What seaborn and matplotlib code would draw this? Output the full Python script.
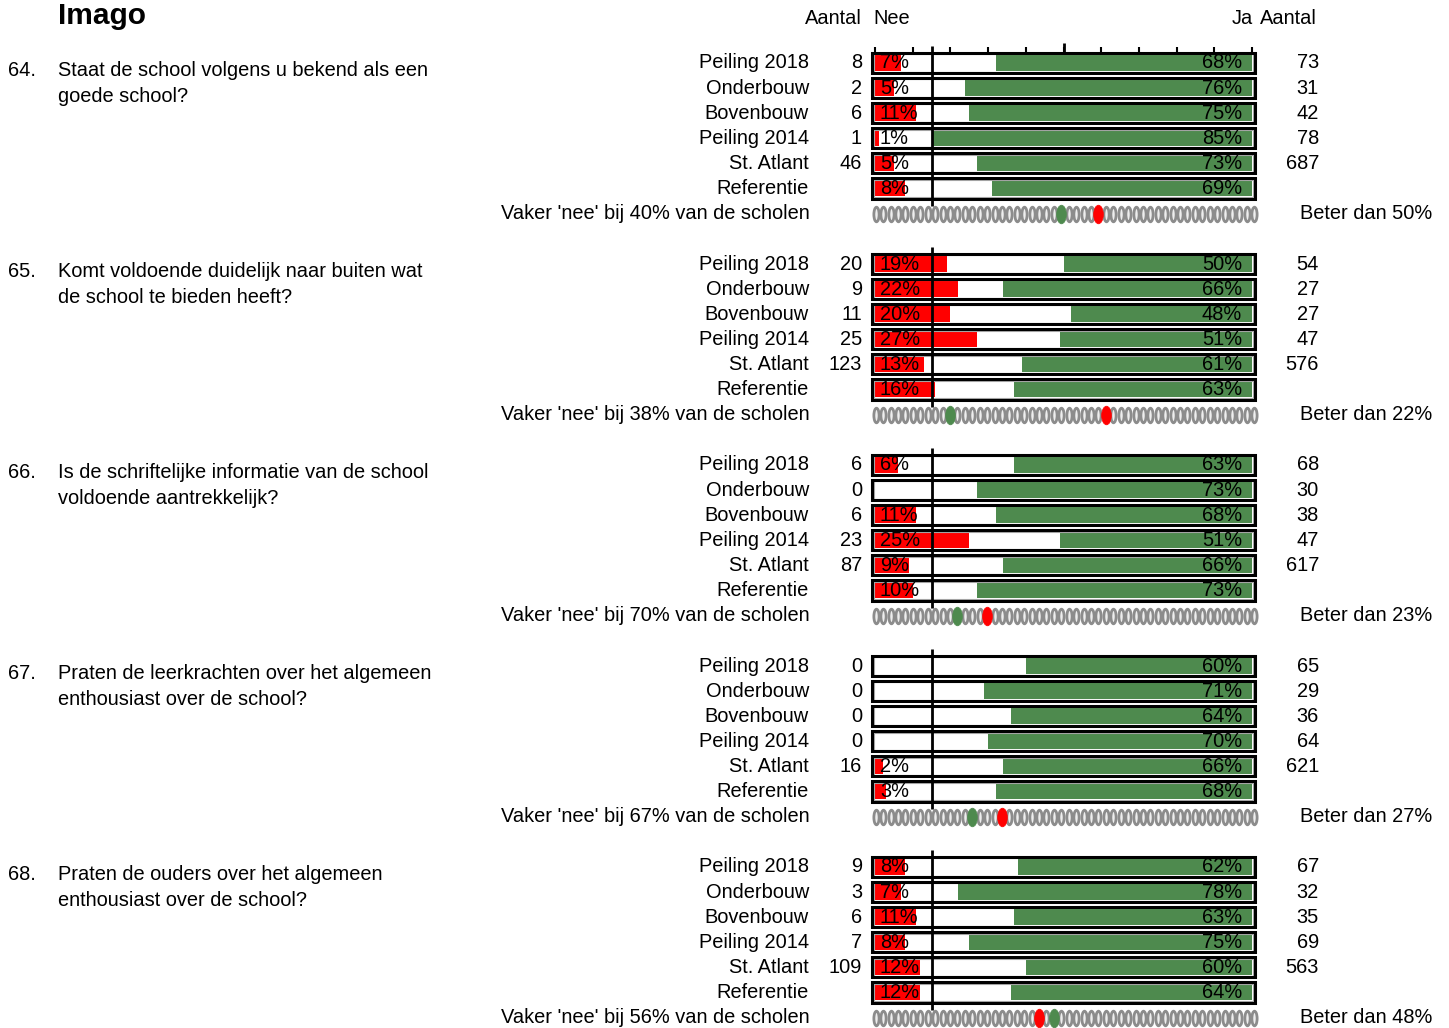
import numpy as np
import pandas as pd
import matplotlib.pyplot as plt
import matplotlib.transforms as mtransforms
from matplotlib.path import Path
from matplotlib.transforms import Affine2D
import seaborn as sns

# data
title = "Imago"
row_labels = ["Peiling 2018", "Onderbouw", "Bovenbouw", "Peiling 2014", "St. Atlant", "Referentie"]
q_numbers = ["64.", "65.", "66.", "67.", "68."]
q_texts = [
    ["Staat de school volgens u bekend als een", "goede school?"],
    ["Komt voldoende duidelijk naar buiten wat", "de school te bieden heeft?"],
    ["Is de schriftelijke informatie van de school", "voldoende aantrekkelijk?"],
    ["Praten de leerkrachten over het algemeen", "enthousiast over de school?"],
    ["Praten de ouders over het algemeen", "enthousiast over de school?"],
]
nee_pct = [
    [7, 5, 11, 1, 5, 8],
    [19, 22, 20, 27, 13, 16],
    [6, 0, 11, 25, 9, 10],
    [0, 0, 0, 0, 2, 3],
    [8, 7, 11, 8, 12, 12],
]
ja_pct = [
    [68, 76, 75, 85, 73, 69],
    [50, 66, 48, 51, 61, 63],
    [63, 73, 68, 51, 66, 73],
    [60, 71, 64, 70, 66, 68],
    [62, 78, 63, 75, 60, 64],
]
nee_count = [
    [8, 2, 6, 1, 46],
    [20, 9, 11, 25, 123],
    [6, 0, 6, 23, 87],
    [0, 0, 0, 0, 16],
    [9, 3, 6, 7, 109],
]
ja_count = [
    [73, 31, 42, 78, 687],
    [54, 27, 27, 47, 576],
    [68, 30, 38, 47, 617],
    [65, 29, 36, 64, 621],
    [67, 32, 35, 69, 563],
]
vaker_nee = [40, 38, 70, 67, 56]
beter_dan = [50, 22, 23, 27, 48]
n_schools = 52
school_pos = [25, 10, 11, 13, 24]
nee_pos = [30, 31, 15, 17, 22]
threshold = 15

GREEN = "#4e8a4e"
RED = "#ff0000"

sns.set_style("white")
plt.rcParams["font.family"] = ["Liberation Sans", "DejaVu Sans"]
plt.rcParams["font.size"] = 14.4
plt.rcParams["text.color"] = "black"

W, H = 1449, 1028
fig = plt.figure(figsize=(W / 100, H / 100), dpi=100)

fig.text(58 / W, 1 - 16 / H, title, fontsize=21.5, fontweight="bold", ha="left", va="center")
fig.text(862 / W, 1 - 19 / H, "Aantal", ha="right", va="center")
fig.text(873 / W, 1 - 19 / H, "Nee", ha="left", va="center")
fig.text(1253 / W, 1 - 19 / H, "Ja", ha="right", va="center")
fig.text(1317 / W, 1 - 19 / H, "Aantal", ha="right", va="center")

ell_gray = Path.unit_circle().transformed(Affine2D().scale(0.36, 1.0))
ell_col = Path.unit_circle().transformed(Affine2D().scale(0.52, 1.0))
dot_x = np.linspace(0.2, 100.6, n_schools)

step = 25.1
for g in range(len(q_numbers)):
    row0 = 63 + 201 * g
    top = row0 - 0.9 * step
    bottom = row0 + 6.6 * step
    ax = fig.add_axes([875 / W, 1 - bottom / H, 377 / W, (bottom - top) / H])

    df = pd.DataFrame({"label": row_labels, "nee": nee_pct[g], "ja": ja_pct[g]})
    df["rest"] = 100 - df["ja"]
    df["full"] = 100

    for col, c in [("full", GREEN), ("rest", "white"), ("nee", RED)]:
        sns.barplot(data=df, x=col, y="label", color=c, saturation=1, width=0.63,
                    errorbar=None, linewidth=0, ax=ax)

    pos = np.arange(len(row_labels))
    inner = ax.barh(pos, 100.6, left=-0.3, height=0.7, facecolor="none", edgecolor="#a8a8a8", linewidth=0.8)
    outer = ax.barh(pos, 101.4, left=-0.7, height=0.8, facecolor="none", edgecolor="black", linewidth=2.2)
    for p in list(inner) + list(outer):
        p.set_clip_on(False)

    ax.vlines(threshold, -0.68, 5.7, color="black", linewidth=2, zorder=5)
    if g == 0:
        ax.vlines(np.arange(0, 101, 10), -0.62, -0.44, color="black", linewidth=1.5, clip_on=False)
        ax.vlines([50], -0.78, -0.44, color="black", linewidth=2, clip_on=False)

    for r in pos:
        if df["nee"][r] > 0:
            ax.text(1.3, r, f"{df['nee'][r]}%", ha="left", va="center", zorder=6)
        ax.text(97.4, r, f"{df['ja'][r]}%", ha="right", va="center", zorder=6)

    # position dots
    gray = [i for i in range(n_schools) if i not in (school_pos[g], nee_pos[g])]
    sns.scatterplot(x=dot_x[gray], y=[6] * len(gray), marker=ell_gray, s=110,
                    facecolor="#eeeeee", edgecolor="#8c8c8c", linewidth=2.0, ax=ax, clip_on=False)
    sns.scatterplot(x=[dot_x[school_pos[g]]], y=[6], marker=ell_col, s=180,
                    color=GREEN, edgecolor=GREEN, linewidth=0.5, ax=ax, clip_on=False, zorder=4)
    sns.scatterplot(x=[dot_x[nee_pos[g]]], y=[6], marker=ell_col, s=180,
                    color=RED, edgecolor=RED, linewidth=0.5, ax=ax, clip_on=False, zorder=4)

    ax.set_xlim(0, 100)
    ax.set_ylim(6.6, -0.9)
    ax.set_axis_off()

    tr = mtransforms.blended_transform_factory(fig.transFigure, ax.transData)
    ax.text(8 / W, 0.3, q_numbers[g], transform=tr, ha="left", va="center")
    for k, line in enumerate(q_texts[g]):
        ax.text(58 / W, 0.3 + 1.02 * k, line, transform=tr, ha="left", va="center")
    for r, lab in enumerate(row_labels):
        ax.text(809 / W, r, lab, transform=tr, ha="right", va="center")
    for r, n in enumerate(nee_count[g]):
        ax.text(862 / W, r, str(n), transform=tr, ha="right", va="center")
    for r, n in enumerate(ja_count[g]):
        ax.text(1319 / W, r, str(n), transform=tr, ha="right", va="center")
    ax.text(810 / W, 6, f"Vaker 'nee' bij {vaker_nee[g]}% van de scholen", transform=tr,
            ha="right", va="center")
    ax.text(1300 / W, 6, f"Beter dan {beter_dan[g]}%", transform=tr, ha="left", va="center")

fig.savefig("out.png", dpi=100)
